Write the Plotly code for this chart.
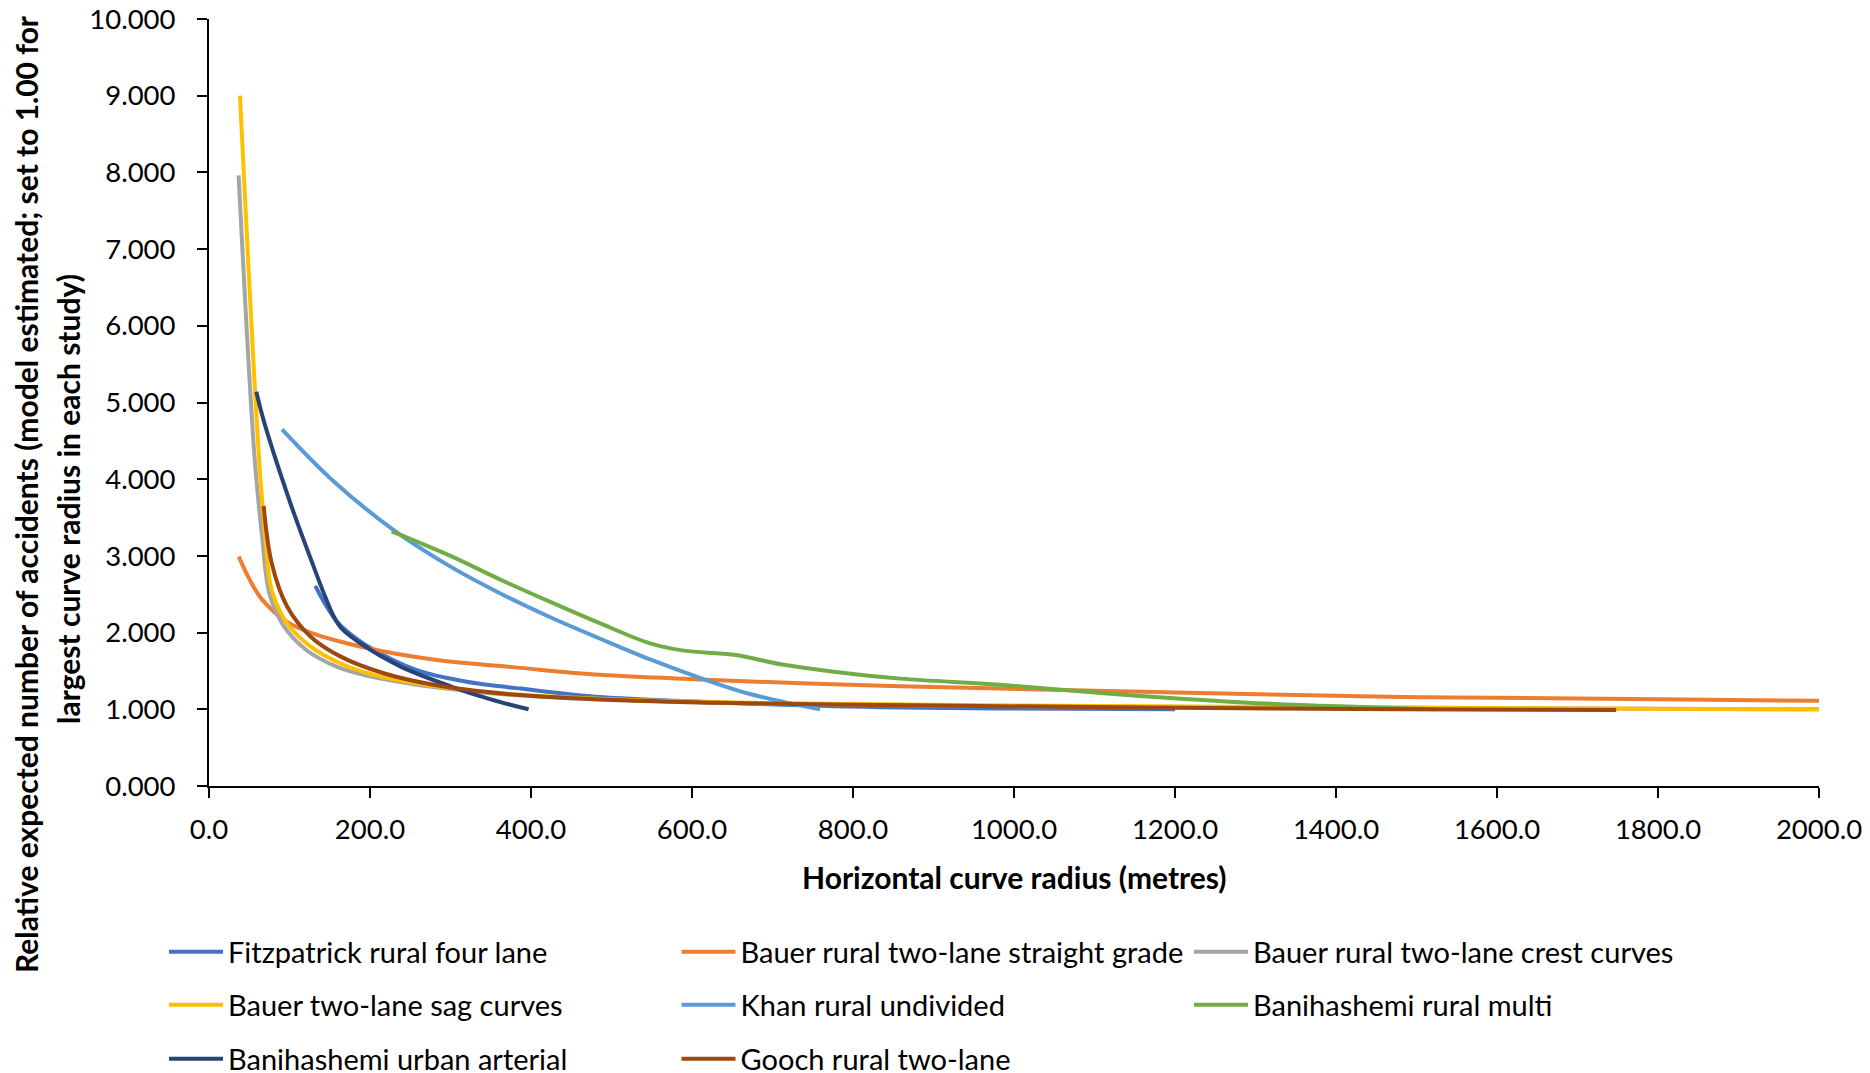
import plotly.graph_objects as go

# ---- data ----
fitz_x = [132, 145, 160, 178, 196, 258, 320, 362, 387, 486, 610, 776, 983, 1200]
fitz_y = [2.61, 2.36, 2.13, 1.96, 1.83, 1.51, 1.36, 1.30, 1.27, 1.16, 1.10, 1.04, 1.01, 1.00]

bauer_straight_x = [37, 50, 66, 97, 126, 196, 279, 387, 486, 610, 735, 859, 983, 1200, 1480, 1600, 1800, 2000]
bauer_straight_y = [2.99, 2.70, 2.43, 2.14, 2.00, 1.80, 1.65, 1.54, 1.45, 1.39, 1.34, 1.30, 1.27, 1.22, 1.16, 1.15, 1.13, 1.11]

bauer_crest_x = [36.8, 56.5, 66, 75, 92, 120, 160, 204, 258, 320, 387, 500, 700, 1000, 1500, 2000]
bauer_crest_y = [7.96, 4.30, 3.25, 2.51, 2.10, 1.78, 1.55, 1.42, 1.32, 1.24, 1.18, 1.12, 1.07, 1.04, 1.02, 1.00]

bauer_sag_x = [38.5, 62, 70, 78, 97, 126, 163, 204, 258, 320, 387, 500, 700, 1000, 1500, 2000]
bauer_sag_y = [9.00, 4.30, 3.25, 2.55, 2.12, 1.82, 1.60, 1.45, 1.34, 1.25, 1.19, 1.13, 1.08, 1.05, 1.02, 1.00]

khan_x = [90.7, 155, 229, 300, 362, 424, 486, 548, 610, 672, 759]
khan_y = [4.65, 3.97, 3.34, 2.86, 2.51, 2.20, 1.92, 1.65, 1.41, 1.20, 1.00]

bani_rural_x = [227, 300, 362, 424, 486, 548, 590, 652, 714, 776, 859, 983, 1136, 1302, 1525]
bani_rural_y = [3.32, 3.00, 2.69, 2.40, 2.12, 1.86, 1.765, 1.71, 1.58, 1.49, 1.40, 1.32, 1.19, 1.08, 1.00]

bani_urban_x = [58.8, 67.8, 101, 130, 145, 155, 165, 188, 237.6, 300, 350, 397]
bani_urban_y = [5.14, 4.77, 3.69, 2.86, 2.45, 2.21, 2.05, 1.86, 1.56, 1.30, 1.13, 1.00]

gooch_x = [67.9, 78, 97, 126, 163, 217, 279, 370, 480, 610, 800, 983, 1200, 1480, 1748]
gooch_y = [3.65, 2.90, 2.34, 1.95, 1.69, 1.47, 1.32, 1.20, 1.13, 1.09, 1.06, 1.04, 1.02, 1.00, 0.99]

names = ["Fitzpatrick rural four lane", "Bauer rural two-lane straight grade",
         "Bauer rural two-lane crest curves", "Bauer two-lane sag curves",
         "Khan rural undivided", "Banihashemi rural multi",
         "Banihashemi urban arterial", "Gooch rural two-lane"]
colors = ["#4472C4", "#ED7D31", "#A5A5A5", "#FFC000", "#5B9BD5", "#70AD47", "#264478", "#9E480E"]
xs = [fitz_x, bauer_straight_x, bauer_crest_x, bauer_sag_x, khan_x, bani_rural_x, bani_urban_x, gooch_x]
ys = [fitz_y, bauer_straight_y, bauer_crest_y, bauer_sag_y, khan_y, bani_rural_y, bani_urban_y, gooch_y]
legend_ids = ["legend", "legend", "legend", "legend2", "legend2", "legend2", "legend3", "legend3"]

FONT = "Lato"

fig = go.Figure()
for n, c, x, y, lg in zip(names, colors, xs, ys, legend_ids):
    fig.add_trace(go.Scatter(x=x, y=y, name=n, mode="lines",
                             line=dict(color=c, width=4, shape="spline", smoothing=1.0),
                             legend=lg))

# page offset from the default body margin
OFF = 8
W, H = 1870, 1073
L, R, T, B = 201, 59, 11, 295
pw, ph = W - L - R, H - T - B

def px_to_paper_x(px):
    return (px - OFF - L) / pw

def px_to_paper_y(py):
    return (H - B - (py - OFF)) / ph

leg_common = dict(orientation="h", entrywidth=443.5, entrywidthmode="pixels",
                  font=dict(family=FONT, size=29, color="#000000"),
                  bgcolor="rgba(0,0,0,0)", xanchor="left", yanchor="middle",
                  x=px_to_paper_x(164), itemwidth=54, tracegroupgap=0)

fig.update_layout(
    width=W, height=H,
    margin=dict(l=L, r=R, t=T, b=B, autoexpand=False),
    paper_bgcolor="white", plot_bgcolor="white",
    font=dict(family=FONT, size=28, color="#000000"),
    legend=dict(**leg_common, y=px_to_paper_y(952)),
    legend2=dict(**leg_common, y=px_to_paper_y(1005)),
    legend3=dict(**leg_common, y=px_to_paper_y(1059)),
    xaxis=dict(range=[0, 2000], dtick=200, tick0=0, tickformat=".1f", automargin=False,
               showgrid=False, zeroline=False, showline=True, linecolor="#000000", linewidth=2,
               ticks="outside", ticklen=10, tickwidth=2, tickcolor="#000000",
               ticklabeloverflow="allow",
               tickfont=dict(family=FONT, size=27.5, color="#000000"), ticklabelstandoff=8),
    yaxis=dict(range=[0, 10], dtick=1, tick0=0, tickformat=".3f", automargin=False,
               showgrid=False, zeroline=False, showline=True, linecolor="#000000", linewidth=2,
               ticks="outside", ticklen=10, tickwidth=2, tickcolor="#000000",
               ticklabeloverflow="allow",
               tickfont=dict(family=FONT, size=27.5, color="#000000"), ticklabelstandoff=16),
    annotations=[
        dict(text="<b>Horizontal curve radius (metres)</b>", xref="paper", yref="paper",
             x=0.5, y=px_to_paper_y(877), xanchor="center", yanchor="middle", showarrow=False,
             font=dict(family=FONT, size=30, color="#000000")),
        dict(text="<b>Relative expected number of accidents (model estimated; set to 1.00 for</b>",
             xref="paper", yref="paper", x=px_to_paper_x(26), y=px_to_paper_y(494),
             xanchor="center", yanchor="middle", textangle=-90, showarrow=False,
             font=dict(family=FONT, size=30, color="#000000")),
        dict(text="<b>largest curve radius in each study)</b>",
             xref="paper", yref="paper", x=px_to_paper_x(68), y=px_to_paper_y(499),
             xanchor="center", yanchor="middle", textangle=-90, showarrow=False,
             font=dict(family=FONT, size=30, color="#000000")),
    ],
)

fig.write_html("out.html")
